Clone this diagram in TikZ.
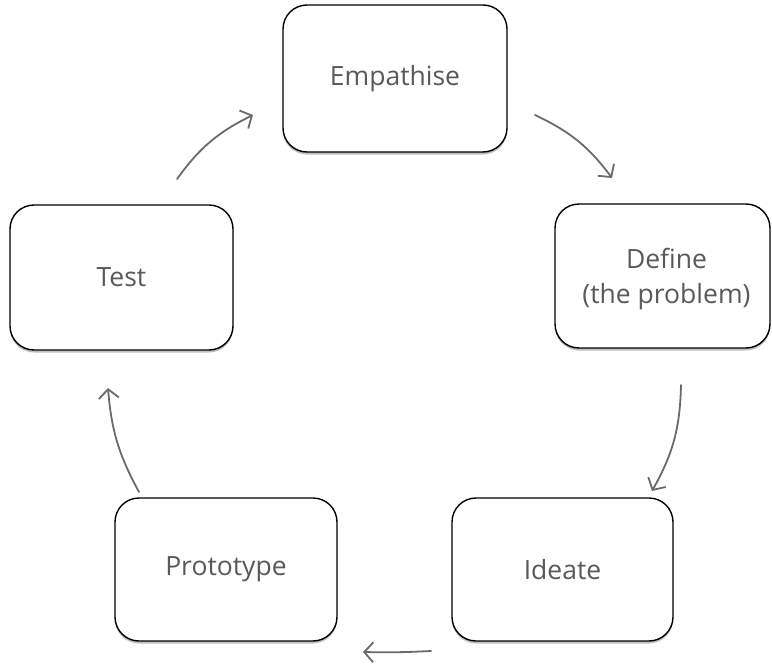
\documentclass[tikz,border=0pt]{standalone}
\usepackage{fontspec}
\setmainfont{Open Sans}
\usetikzlibrary{arrows.meta,shadows}
\definecolor{txtgray}{HTML}{595959}
\definecolor{arrgray}{HTML}{6A6A6A}
\tikzset{
  stage/.style={draw=black, line width=1.4pt, rounded corners=24pt, fill=white,
    align=center, text=txtgray, inner sep=0pt,
    font=\fontsize{26.5}{35}\selectfont,
    drop shadow={shadow xshift=0pt, shadow yshift=-2.5pt, opacity=0.25, fill=black}},
  stagetext/.style={align=center, text=txtgray, inner sep=0pt,
    font=\fontsize{26.5}{35}\selectfont},
  flow/.style={draw=arrgray, line width=1.8pt, line cap=round,
    -{Straight Barb[length=9pt,width=20pt,line width=1.8pt]}}
}
\begin{document}
\begin{tikzpicture}[x=1pt,y=1pt]
\useasboundingbox (0,0) rectangle (772,-672);
\node[stage, minimum width=224pt, minimum height=147pt] (emp) at (395,-78.5) {Empathise};
\node[stage, minimum width=215pt, minimum height=144pt] (def) at (662.5,-276) {};
\node[stagetext] (deftext) at (666.5,-279) {Define\\(the problem)};
\node[stage, minimum width=223pt, minimum height=145pt] (test) at (121.5,-277.5) {Test};
\node[stage, minimum width=222pt, minimum height=143pt] (proto) at (226,-569.5) {Prototype};
\node[stage, minimum width=221pt, minimum height=143pt] (idea) at (562.5,-569.5) {Ideate};
\coordinate (a1s) at (177,-179);
\coordinate (a1e) at (253,-115);
\coordinate (a2s) at (535,-115);
\coordinate (a2e) at (612,-178);
\coordinate (a3s) at (681,-385);
\coordinate (a3e) at (652,-491);
\coordinate (a4s) at (431,-651);
\coordinate (a4e) at (363,-652);
\coordinate (a5s) at (139,-492);
\coordinate (a5e) at (108,-388);
\draw[flow] (a1s) to[bend left=14] (a1e);
\draw[flow] (a2s) to[bend left=14] (a2e);
\draw[flow] (a3s) to[bend left=14] (a3e);
\draw[flow] (a4s) to[bend left=2] (a4e);
\draw[flow] (a5s) to[bend left=12] (a5e);
\end{tikzpicture}
\end{document}
